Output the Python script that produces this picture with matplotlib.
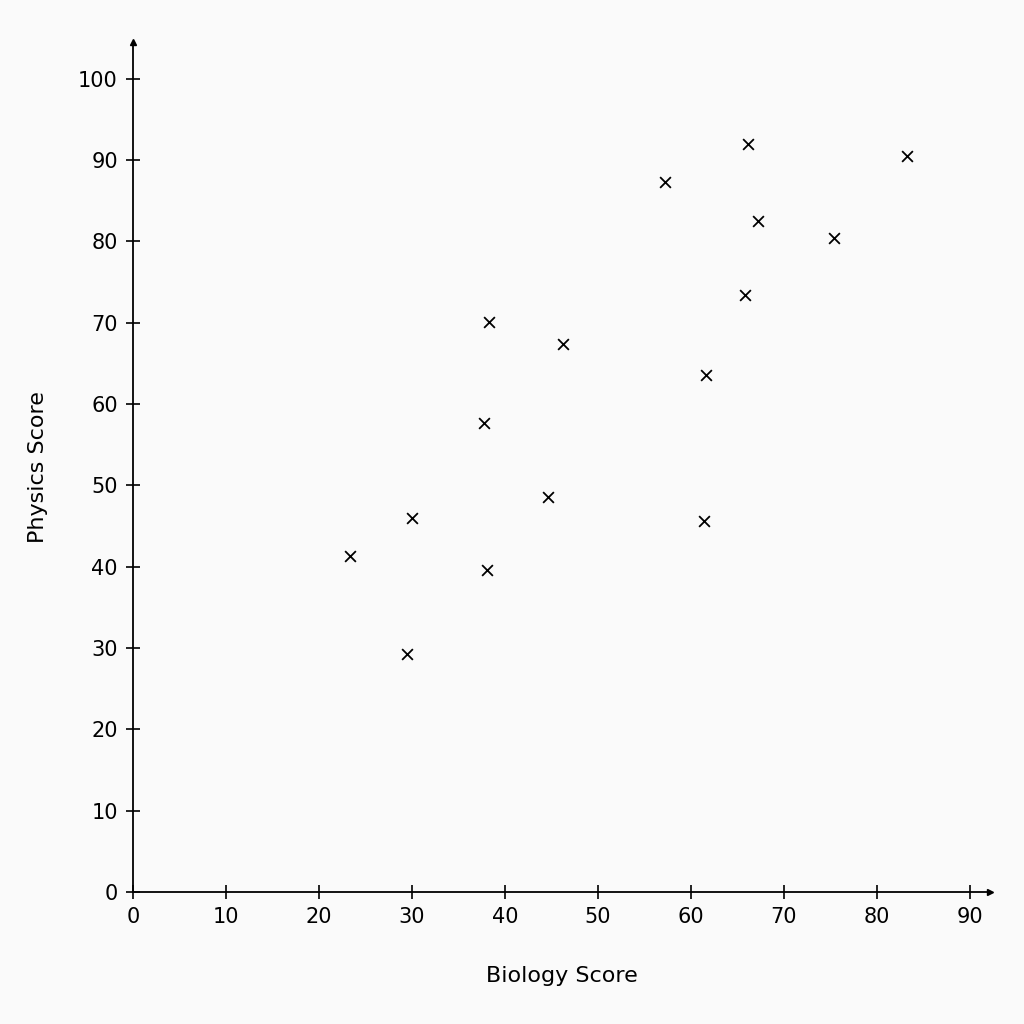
import matplotlib.pyplot as plt

biology = [23.3, 29.5, 30.0, 37.7, 38.3, 38.1, 44.6, 46.2, 57.2, 61.6, 61.4, 65.8, 66.1, 67.2, 75.4, 83.3]
physics = [41.3, 29.3, 46.0, 57.6, 70.1, 39.6, 48.6, 67.4, 87.3, 63.6, 45.6, 73.4, 92.0, 82.5, 80.4, 90.5]
xticks = list(range(0, 91, 10))
yticks = list(range(0, 101, 10))

fig = plt.figure(figsize=(10.24, 10.24), dpi=100, facecolor='#fafafa')
ax = fig.add_axes([0.13, 0.129, 0.837, 0.83], facecolor='#fafafa')
ax.scatter(biology, physics, marker='x', color='black', s=60, linewidths=1.3)
ax.set_xlim(0, 92.2)
ax.set_ylim(0, 104.5)
for s in ['top', 'right']:
    ax.spines[s].set_visible(False)
ax.spines['left'].set_linewidth(1.3)
ax.spines['bottom'].set_linewidth(1.3)
ax.plot(1, 0, '>k', transform=ax.transAxes, clip_on=False, markersize=5)
ax.plot(0, 1, '^k', transform=ax.transAxes, clip_on=False, markersize=5)
ax.set_xticks(xticks)
ax.set_yticks(yticks)
ax.tick_params(direction='inout', length=10, width=1.2, labelsize=15, pad=6)
ax.set_xlabel('Biology Score', fontsize=16, labelpad=28)
ax.set_ylabel('Physics Score', fontsize=16, labelpad=22)
fig.savefig('out.png', dpi=100, facecolor=fig.get_facecolor())
